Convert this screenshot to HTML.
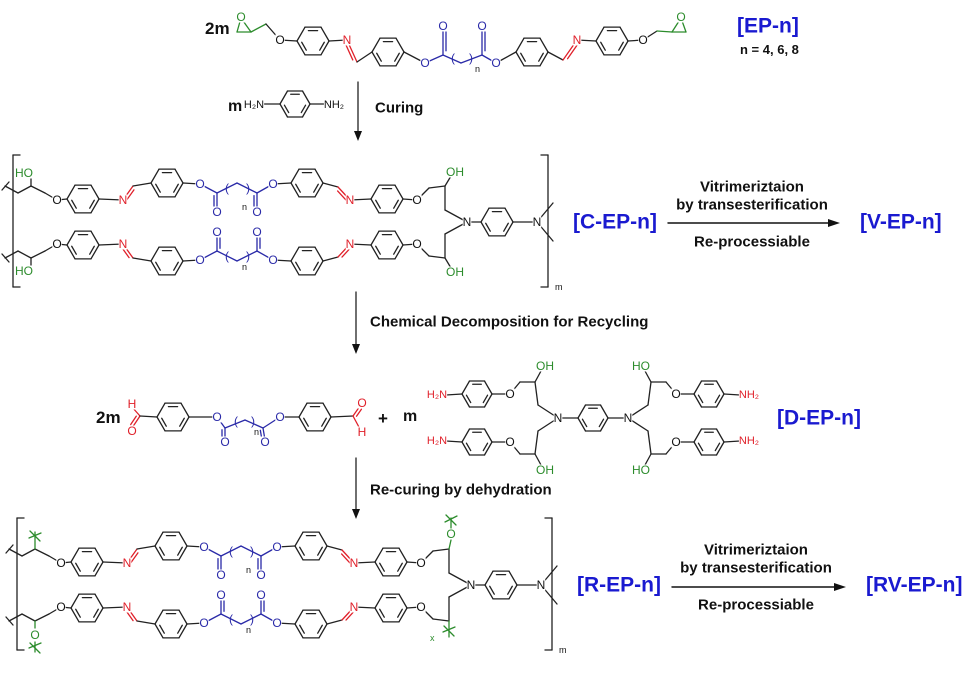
<!DOCTYPE html>
<html><head><meta charset="utf-8"><style>
html,body{margin:0;padding:0;background:#fff;}
svg{display:block;}
text{font-family:"Liberation Sans",Arial,sans-serif;}
.a{font-size:12px;dominant-baseline:central;text-anchor:middle;}
.k{fill:#111}.r{fill:#e0202a}.b{fill:#2a2aa8}.g{fill:#2c8c2c}
.big{font-size:21px;font-weight:bold;fill:#1a1ad0;dominant-baseline:central;}
.lb{font-size:15px;font-weight:bold;fill:#111;dominant-baseline:central;}
.sm{font-size:9px;fill:#111;}
</style></head><body>
<svg id="s" width="965" height="675" viewBox="0 0 965 675" xmlns="http://www.w3.org/2000/svg">
<g id="lines" stroke-linecap="round"></g>
<g id="labels">
<text x="205" y="34" style="font-size:17px;font-weight:bold;fill:#111">2m</text>
<text class="a g" x="241" y="17">O</text>
<text class="a k" x="280" y="40">O</text>
<text class="a r" x="347" y="40">N</text>
<text class="a b" x="425" y="63">O</text>
<text class="a b" x="443" y="26">O</text>
<text class="a b" x="482" y="26">O</text>
<text class="a b" x="453" y="58">(</text>
<text class="a b" x="471" y="58">)</text>
<text class="sm" x="475" y="72">n</text>
<text class="a b" x="496" y="63">O</text>
<text class="a r" x="577" y="40">N</text>
<text class="a k" x="643" y="40">O</text>
<text class="a g" x="681" y="17">O</text>
<text class="big" x="737" y="26">[EP-n]</text>
<text x="740" y="54" style="font-size:13px;font-weight:bold;fill:#111">n = 4, 6, 8</text>
<text x="228" y="111" style="font-size:16px;font-weight:bold;fill:#111">m</text>
<text class="a k" x="254" y="105" style="font-size:11px">H₂N</text>
<text class="a k" x="334" y="105" style="font-size:11px">NH₂</text>
<text class="lb" x="375" y="108">Curing</text>
<g id="cep">
<text class="a k" x="57" y="200">O</text>
<text class="a r" x="123" y="200">N</text>
<text class="a b" x="200" y="184">O</text>
<text class="a b" x="217" y="212">O</text>
<text class="a b" x="227" y="188">(</text>
<text class="a b" x="248" y="188">)</text>
<text class="sm" x="242" y="210">n</text>
<text class="a b" x="257" y="212">O</text>
<text class="a b" x="273" y="184">O</text>
<text class="a r" x="350" y="200">N</text>
<text class="a k" x="417" y="200">O</text>
<text class="a k" x="57" y="244">O</text>
<text class="a r" x="123" y="244">N</text>
<text class="a b" x="200" y="260">O</text>
<text class="a b" x="217" y="232">O</text>
<text class="a b" x="227" y="256">(</text>
<text class="a b" x="248" y="256">)</text>
<text class="sm" x="242" y="270">n</text>
<text class="a b" x="257" y="232">O</text>
<text class="a b" x="273" y="260">O</text>
<text class="a r" x="350" y="244">N</text>
<text class="a k" x="417" y="244">O</text>
<text class="a k" x="467" y="222">N</text>
<text class="a k" x="537" y="222">N</text>
<text class="sm" x="555" y="290">m</text>
</g>
<text class="a g" x="24" y="173">HO</text>
<text class="a g" x="24" y="271">HO</text>
<text class="a g" x="455" y="172">OH</text>
<text class="a g" x="455" y="272">OH</text>
<text class="big" x="573" y="222">[C-EP-n]</text>
<text class="lb" x="752" y="187" text-anchor="middle">Vitrimeriztaion</text>
<text class="lb" x="752" y="205" text-anchor="middle">by transesterification</text>
<text class="lb" x="752" y="242" text-anchor="middle">Re-processiable</text>
<text class="big" x="860" y="222">[V-EP-n]</text>
<text class="lb" x="370" y="322">Chemical Decomposition for Recycling</text>
<text x="96" y="423" style="font-size:17px;font-weight:bold;fill:#111">2m</text>
<text class="a r" x="132" y="404">H</text>
<text class="a r" x="132" y="431">O</text>
<text class="a b" x="217" y="417">O</text>
<text class="a b" x="225" y="442">O</text>
<text class="a b" x="236" y="421">(</text>
<text class="a b" x="253" y="421">)</text>
<text class="sm" x="254" y="435">n</text>
<text class="a b" x="265" y="442">O</text>
<text class="a b" x="280" y="417">O</text>
<text class="a r" x="362" y="403">O</text>
<text class="a r" x="362" y="432">H</text>
<text x="378" y="424" style="font-size:17px;font-weight:bold;fill:#111">+</text>
<text x="403" y="421" style="font-size:16px;font-weight:bold;fill:#111">m</text>
<text class="a r" x="437" y="395" style="font-size:11px">H₂N</text>
<text class="a r" x="437" y="441" style="font-size:11px">H₂N</text>
<text class="a r" x="749" y="395" style="font-size:11px">NH₂</text>
<text class="a r" x="749" y="441" style="font-size:11px">NH₂</text>
<text class="a k" x="510" y="394">O</text>
<text class="a k" x="510" y="442">O</text>
<text class="a k" x="676" y="394">O</text>
<text class="a k" x="676" y="442">O</text>
<text class="a g" x="545" y="366">OH</text>
<text class="a g" x="545" y="470">OH</text>
<text class="a g" x="641" y="366">HO</text>
<text class="a g" x="641" y="470">HO</text>
<text class="a k" x="558" y="418">N</text>
<text class="a k" x="628" y="418">N</text>
<text class="big" x="777" y="418">[D-EP-n]</text>
<text class="lb" x="370" y="490">Re-curing by dehydration</text>
<use href="#cep" transform="translate(4,363)"/>
<text class="a g" x="35" y="635">O</text>
<text class="a g" x="451" y="534">O</text>
<text class="sm" x="430" y="641" style="fill:#2c8c2c">x</text>
<text class="big" x="577" y="585">[R-EP-n]</text>
<text class="lb" x="756" y="550" text-anchor="middle">Vitrimeriztaion</text>
<text class="lb" x="756" y="568" text-anchor="middle">by transesterification</text>
<text class="lb" x="756" y="605" text-anchor="middle">Re-processiable</text>
<text class="big" x="866" y="585">[RV-EP-n]</text>
</g>
</svg>
<script>
const NS='http://www.w3.org/2000/svg';
const G=document.getElementById('lines');
const K='#222',RD='#e0202a',BL='#2a2aa8',GR='#2c8c2c';
function L(x1,y1,x2,y2,c,w){const l=document.createElementNS(NS,'line');
l.setAttribute('x1',x1);l.setAttribute('y1',y1);l.setAttribute('x2',x2);l.setAttribute('y2',y2);
l.setAttribute('stroke',c||K);l.setAttribute('stroke-width',w||1.3);G.appendChild(l);}
function P(pts,c){for(let i=0;i<pts.length-1;i++)L(pts[i][0],pts[i][1],pts[i+1][0],pts[i+1][1],c);}
function D(x1,y1,x2,y2,c){L(x1,y1,x2,y2,c);let dx=x2-x1,dy=y2-y1,n=Math.hypot(dx,dy),ox=-dy/n*3,oy=dx/n*3;
L(x1+ox+dx*0.15,y1+oy+dy*0.15,x2+ox-dx*0.15,y2+oy-dy*0.15,c);}
function R(cx,cy,r){const v=[];for(let i=0;i<6;i++){const a=i*Math.PI/3;v.push([cx+r*Math.cos(a),cy+r*Math.sin(a)]);}
for(let i=0;i<6;i++){const p=v[i],q=v[(i+1)%6];L(p[0],p[1],q[0],q[1]);
if(i%2==0){const s=0.75;const px=cx+(p[0]-cx)*s,py=cy+(p[1]-cy)*s,qx=cx+(q[0]-cx)*s,qy=cy+(q[1]-cy)*s;
const mx=(px-qx)*0.12,my=(py-qy)*0.12;L(px-mx,py-my,qx+mx,qy+my);}}}
function strand(dx,dy,m,rep){const X=x=>x+dx,Y=y=>(m?444-y:y)+dy;
const p=a=>a.map(q=>[X(q[0]),Y(q[1])]);
P(p([[5,186],[18,193],[31,186],[45,193],[57,200],[67,199]]));
R(X(83),Y(199),16);
L(X(99),Y(199),X(123),Y(200));
D(X(123),Y(200),X(133),Y(186),RD);
L(X(133),Y(186),X(151),Y(183));
R(X(167),Y(183),16);
L(X(183),Y(183),X(200),Y(184));
P(p([[200,184],[217,193],[237,183],[257,193],[273,184]]),BL);
D(X(217),Y(193),X(217),Y(211),BL);D(X(257),Y(193),X(257),Y(211),BL);
L(X(273),Y(184),X(291),Y(183));
R(X(307),Y(183),16);
L(X(323),Y(183),X(338),Y(187));
D(X(338),Y(187),X(350),Y(200),RD);
L(X(350),Y(200),X(371),Y(199));
R(X(387),Y(199),16);
P(p([[403,199],[417,200],[429,188],[445,186],[445,210],[467,222]]));
if(!rep){L(X(31),Y(186),X(31),Y(176));L(X(445),Y(186),X(451),Y(176));}
}
function poly(dx,dy,rep){strand(dx,dy,0,rep);strand(dx,dy,1,rep);
L(dx+467,dy+222,dx+481,dy+222);R(dx+497,dy+222,16);L(dx+513,dy+222,dx+537,dy+222);
L(dx+537,dy+222,dx+553,dy+203);L(dx+537,dy+222,dx+553,dy+241);
P([[dx+20,dy+155],[dx+13,dy+155],[dx+13,dy+287],[dx+20,dy+287]]);
P([[dx+541,dy+155],[dx+548,dy+155],[dx+548,dy+287],[dx+541,dy+287]]);
L(dx+2,dy+190,dx+9,dy+182);L(dx+2,dy+254,dx+9,dy+262);}
poly(0,0,false);
poly(4,363,true);
L(35,549,35,532,GR);L(29,538,41,533,GR);L(30,531,40,541,GR);
L(35,621,35,628,GR);L(35,642,35,652,GR);L(29,648,41,643,GR);L(30,643,40,653,GR);
L(449,549,451,540,GR);L(451,528,451,518,GR);L(445,522,457,516,GR);L(446,515,456,525,GR);
L(449,621,449,637,GR);L(443,632,455,627,GR);L(444,626,454,636,GR);
P([[237,32],[251,32],[241,18],[237,32]],GR);
L(251,32,266,24,GR);L(266,24,280,40);L(280,40,297,41);
R(313,41,16);L(329,41,347,40);
D(347,40,357,62,RD);L(357,62,372,52);
R(388,52,16);L(404,52,425,63);
P([[425,63],[443,55],[461,63],[482,55],[496,63]],BL);
D(443,55,443,27,BL);D(482,55,482,27,BL);
L(496,63,516,52);R(532,52,16);L(548,52,563,60);D(563,60,577,40,RD);
L(577,40,596,41);R(612,41,16);L(628,41,643,40);L(643,40,657,31);L(657,31,672,32,GR);
P([[672,32],[686,32],[681,18],[672,32]],GR);
L(262,104,280,104);R(295,104,15);L(310,104,325,104);
function VA(x,y1,y2){L(x,y1,x,y2-8);const p=document.createElementNS(NS,'polygon');
p.setAttribute('points',`${x-4},${y2-10} ${x+4},${y2-10} ${x},${y2}`);p.setAttribute('fill','#111');G.appendChild(p);}
function HA(y,x1,x2){L(x1,y,x2-8,y,'#111',1.4);const p=document.createElementNS(NS,'polygon');
p.setAttribute('points',`${x2-12},${y-4} ${x2-12},${y+4} ${x2},${y}`);p.setAttribute('fill','#111');G.appendChild(p);}
VA(358,82,141);VA(356,292,354);VA(356,458,519);
HA(223,668,840);HA(587,672,846);
L(140,416,132,407,RD);D(140,416,132,428,RD);L(140,416,157,417);
R(173,417,16);L(189,417,217,417);
P([[217,417],[225,428],[245,420],[263,428],[280,417]],BL);
D(225,428,225,440,BL);D(263,428,265,440,BL);
L(280,417,299,417);R(315,417,16);L(331,417,353,416);
D(353,416,360,406,RD);L(353,416,360,429,RD);
function arm(m,s){const X=x=>s?1186-x:x,Y=y=>m?836-y:y;
L(X(446),Y(395),X(462),Y(394));R(X(477),Y(394),15);
P([[X(492),Y(394)],[X(510),Y(394)],[X(520),Y(382)],[X(535),Y(382)],[X(538),Y(405)],[X(558),Y(418)]]);
L(X(535),Y(382),X(541),Y(371));}
arm(0,0);arm(1,0);arm(0,1);arm(1,1);
L(558,418,578,418);R(593,418,15);L(608,418,628,418);
// white backgrounds behind atom labels
document.querySelectorAll('text.a').forEach(t=>{const b=t.getBBox();
if(t.textContent==='('||t.textContent===')')return;
const r=document.createElementNS(NS,'rect');r.setAttribute('x',b.x);r.setAttribute('y',b.y+1.5);
r.setAttribute('width',b.width);r.setAttribute('height',Math.max(0,b.height-3));r.setAttribute('fill','#fff');
t.parentNode.insertBefore(r,t);});
</script>
</body></html>
